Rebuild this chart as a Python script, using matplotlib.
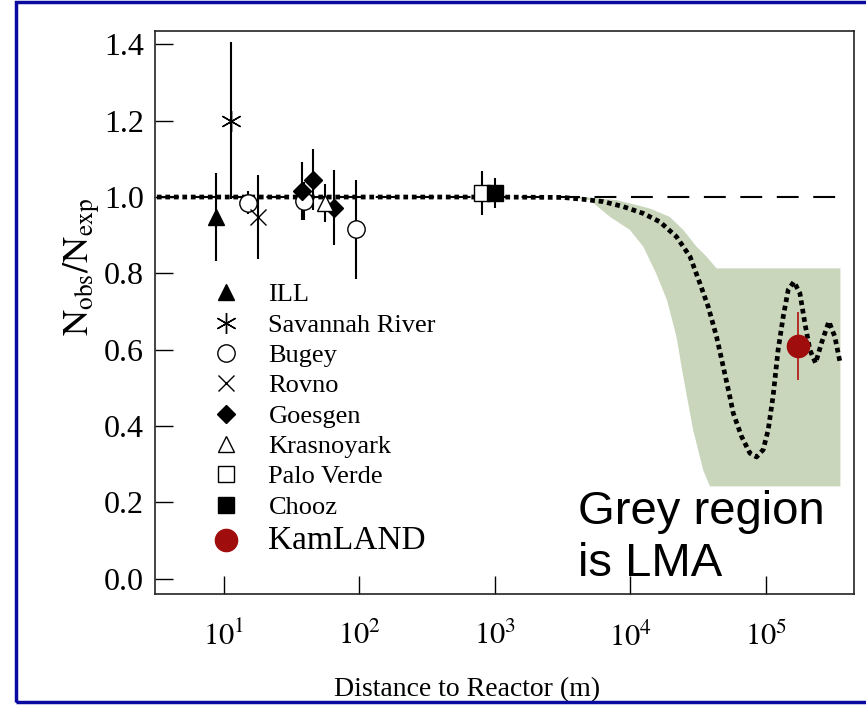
import numpy as np
import matplotlib
matplotlib.use("Agg")
import matplotlib.pyplot as plt
from matplotlib.patches import Rectangle

plt.rcParams['font.family'] = ['Liberation Serif', 'DejaVu Serif']
plt.rcParams['mathtext.fontset'] = 'stix'

# ---------------- data ----------------
ill_x = [8.7];               ill_y = [0.948];              ill_err = [0.115]
sav_x = [11.3];              sav_y = [1.20];               sav_err = [0.205]
bugey_x = [15.0, 39.2, 95.0]; bugey_y = [0.985, 0.99, 0.915]; bugey_err = [0.03, 0.05, 0.13]
rovno_x = [17.9];            rovno_y = [0.948];            rovno_err = [0.11]
goes_x = [37.9, 45.6, 64.9]; goes_y = [1.016, 1.045, 0.972]; goes_err = [0.077, 0.08, 0.098]
kras_x = [56.0];             kras_y = [0.985];             kras_err = [0.05]
pv_x = [806.0];              pv_y = [1.01];                pv_err = [0.057]
chooz_x = [1000.0];          chooz_y = [1.01];             chooz_err = [0.04]
kam_x = [1.73e5];            kam_y = [0.61];               kam_err = [0.09]

# best-fit oscillation curve
curve_x = [3.2, 1000, 3162, 4487, 6310, 8851, 12450, 16520, 21880, 27540, 32580,
           37500, 43250, 48420, 54200, 57410, 66070, 76210, 85310, 95500, 104000,
           113200, 123000, 134300, 146200, 161100, 178200, 194100, 211300, 232800,
           257000, 291700, 322800, 351600]
curve_y = [1.0, 1.0, 0.999, 0.994, 0.988, 0.975, 0.957, 0.935, 0.896, 0.844, 0.774,
           0.713, 0.634, 0.556, 0.477, 0.434, 0.373, 0.329, 0.319, 0.338, 0.39,
           0.48, 0.599, 0.687, 0.757, 0.778, 0.748, 0.669, 0.599, 0.565,
           0.617, 0.674, 0.634, 0.569]

# LMA band edges
band_up_x = [4467, 7907, 13930, 19500, 24550, 30760, 36480, 43250, 354800]
band_up_y = [1.0, 0.992, 0.97, 0.948, 0.914, 0.87, 0.844, 0.813, 0.813]
band_lo_x = [3162, 5012, 7079, 9908, 12450, 15490, 18620, 21880, 24550, 29040,
             34430, 38640, 354800]
band_lo_y = [1.0, 0.992, 0.948, 0.914, 0.87, 0.8, 0.73, 0.634, 0.53, 0.39,
             0.285, 0.242, 0.242]

ref_x = [3.2, 3.5e5]
ref_y = [1.0, 1.0]

xticks = [10, 100, 1000, 10000, 100000]
xtick_labels = ['$10^{1}$', '$10^{2}$', '$10^{3}$', '$10^{4}$', '$10^{5}$']
yticks = [0.0, 0.2, 0.4, 0.6, 0.8, 1.0, 1.2, 1.4]

# ---------------- figure ----------------
W, H = 866, 705
fig = plt.figure(figsize=(W / 100, H / 100), dpi=100)
ax = fig.add_axes([155 / W, 1 - 594 / H, (854 - 155) / W, (594 - 31) / H])

# blue frame
fig.patches.append(Rectangle((16 / W, 3 / H), 1.2, (703 - 3) / H, transform=fig.transFigure,
                             fill=False, edgecolor='#0a0aa0', linewidth=2.5, clip_on=False))

ax.set_xscale('log')
ax.set_xlim(3.1, 4.47e5)
ax.set_ylim(-0.04, 1.435)

# band
ax.fill(np.concatenate([band_up_x, band_lo_x[::-1]]),
        np.concatenate([band_up_y, band_lo_y[::-1]]),
        color='#c9d6bb', linewidth=0, zorder=1)

# reference line
ax.plot(ref_x, ref_y, color='black', lw=1.5, linestyle=(0, (10.5, 7)), zorder=2)

# oscillation curve
ax.plot(curve_x, curve_y, color='black', lw=3.4, linestyle=(0, (1, 0.8)),
        dash_capstyle='butt', zorder=3)

series = [
    (ill_x, ill_y, ill_err, dict(marker='^', ms=12, mfc='black', mec='black'), 'ILL'),
    (sav_x, sav_y, sav_err, dict(marker=(6, 2, 0), ms=15, mfc='black', mec='black', mew=1.0), 'Savannah River'),
    (bugey_x, bugey_y, bugey_err, dict(marker='o', ms=12.5, mfc='white', mec='black', mew=1.0), 'Bugey'),
    (rovno_x, rovno_y, rovno_err, dict(marker='x', ms=12, mfc='black', mec='black', mew=1.0), 'Rovno'),
    (goes_x, goes_y, goes_err, dict(marker='D', ms=9.5, mfc='black', mec='black'), 'Goesgen'),
    (kras_x, kras_y, kras_err, dict(marker='^', ms=12, mfc='white', mec='black', mew=1.0), 'Krasnoyark'),
    (pv_x, pv_y, pv_err, dict(marker='s', ms=11, mfc='white', mec='black', mew=1.0), 'Palo Verde'),
    (chooz_x, chooz_y, chooz_err, dict(marker='s', ms=11, mfc='black', mec='black'), 'Chooz'),
]
handles = []
for x, y, e, st, lab in series:
    ax.errorbar(x, y, yerr=e, fmt='none', ecolor='black', elinewidth=1.5, capsize=0, zorder=4)
    h, = ax.plot(x, y, linestyle='none', zorder=5, label=lab, **st)
    handles.append(h)

ax.errorbar(kam_x, kam_y, yerr=kam_err, fmt='none', ecolor='#b01010', elinewidth=1.2, capsize=0, zorder=4)
hk, = ax.plot(kam_x, kam_y, linestyle='none', marker='o', ms=16, mfc='#a00d0d', mec='#a00d0d',
              zorder=5, label='KamLAND')
handles.append(hk)

leg = ax.legend(handles=handles, loc='upper left',
                bbox_to_anchor=(213 / W, 1 - 283 / H), bbox_transform=fig.transFigure,
                frameon=False, fontsize=19, labelspacing=0.26, handlelength=1.0,
                handletextpad=1.1, borderpad=0, borderaxespad=0)
leg.get_texts()[-1].set_fontsize(24)

# ticks
ax.set_xticks(xticks)
ax.set_xticklabels(xtick_labels)
ax.xaxis.set_minor_locator(matplotlib.ticker.NullLocator())
ax.set_yticks(yticks)
ax.set_yticklabels(['%.1f' % v for v in yticks])
ax.tick_params(axis='both', direction='in', length=13, width=1.0, top=False, right=False)
ax.tick_params(axis='y', labelsize=23, pad=8)
ax.tick_params(axis='x', labelsize=22, pad=20)
for s in ax.spines.values():
    s.set_linewidth(1.2)
    s.set_color('#222222')

ax.set_xlabel('Distance to Reactor (m)', fontsize=20)
ax.xaxis.set_label_coords((467 - 155) / 699, (594 - 677) / 563)
ax.set_ylabel(r'$\mathrm{N_{obs}/N_{exp}}$', fontsize=26)
ax.yaxis.set_label_coords((102 - 155) / 699, (594 - 267) / 563)

fig.text(578 / W, 1 - 490 / H, 'Grey region\nis LMA', fontsize=34,
         family=['Liberation Sans', 'DejaVu Sans'], va='top', ha='left', linespacing=1.25)

fig.savefig('out.png', dpi=100)
